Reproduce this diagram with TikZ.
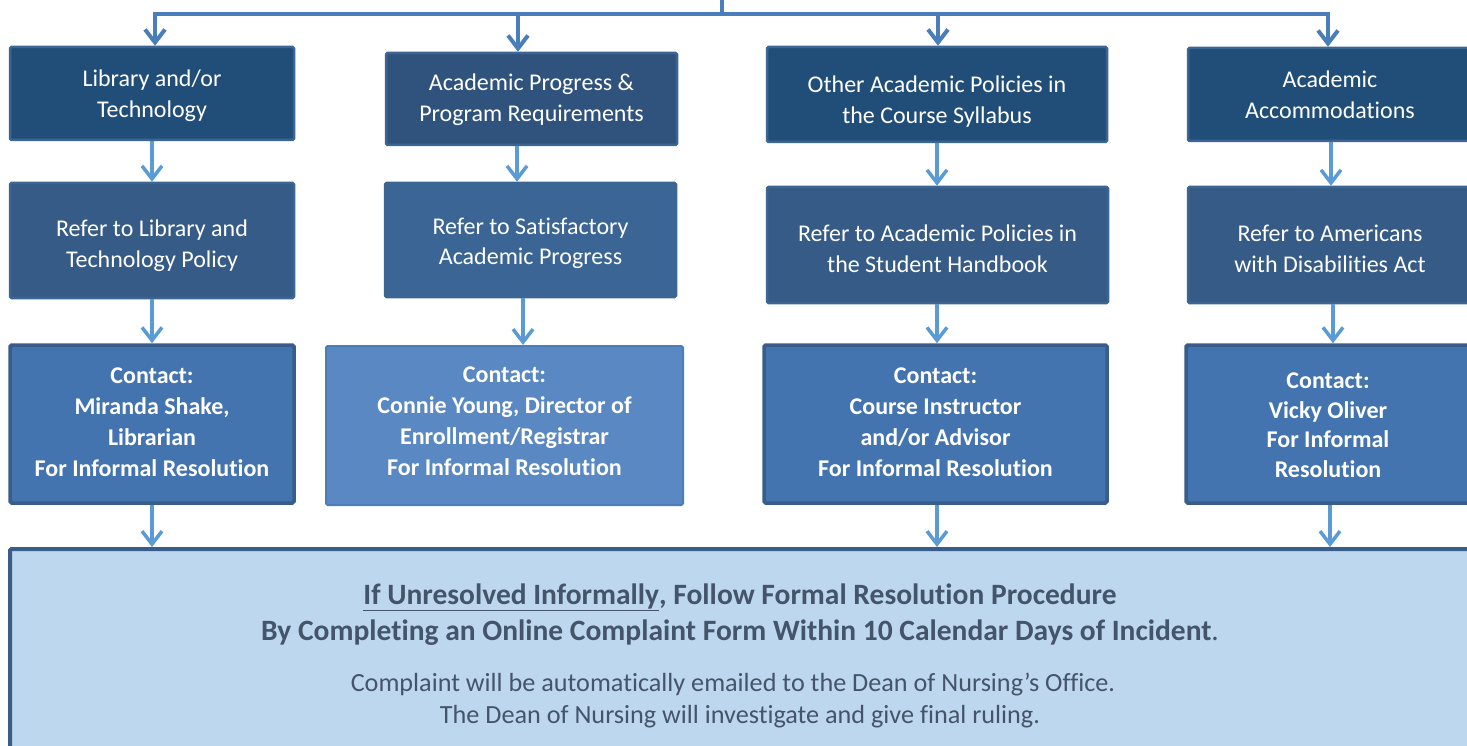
\documentclass[tikz,border=0pt]{standalone}
\usepackage{fontspec}
\setmainfont{Carlito}[Ligatures=NoCommon]
\usetikzlibrary{arrows.meta}
\definecolor{fillA}{HTML}{214E78}
\definecolor{fillA2}{HTML}{30537D}
\definecolor{fillB}{HTML}{365B87}
\definecolor{fillB2}{HTML}{3A6594}
\definecolor{fillC}{HTML}{4474AF}
\definecolor{fillC2}{HTML}{5A88C2}
\definecolor{edgeA}{HTML}{3D6593}
\definecolor{edgeC}{HTML}{385D8A}
\definecolor{edgeC2}{HTML}{4D7DB8}
\definecolor{bottomfill}{HTML}{BDD7EE}
\definecolor{bottomtext}{HTML}{44546A}
\definecolor{toparrow}{HTML}{4A7EBB}
\definecolor{lowarrow}{HTML}{5B9BD5}
\newcommand\boldline{\fontsize{29.5}{36}\selectfont\bfseries}
\newcommand\plainline{\fontsize{26.2}{32}\selectfont\mdseries}
\tikzset{
  boxbase/.style={rectangle, rounded corners=1.5pt, inner sep=0pt, align=center, text=white,
    font=\fontsize{24}{31}\selectfont, text depth=0pt},
  rowone/.style={boxbase, fill=fillA, draw=edgeA, line width=2.5pt},
  rowtwo/.style={boxbase, fill=fillB, draw=edgeA, line width=2.5pt},
  rowthree/.style={boxbase, fill=fillC, draw=edgeC, line width=3.5pt,
    font=\fontsize{24}{31}\selectfont\bfseries},
  bottombox/.style={rectangle, rounded corners=1.5pt, inner sep=0pt, align=center, text=bottomtext,
    fill=bottomfill, draw=edgeC, line width=4pt, font=\fontsize{26}{34}\selectfont},
  topline/.style={draw=toparrow, line width=4pt},
  toparr/.style={draw=toparrow, line width=4pt, -{Straight Barb[length=13pt,width=20pt,line width=4pt]}},
  lowarr/.style={draw=lowarrow, line width=3.5pt, -{Straight Barb[length=13pt,width=20pt,line width=3.5pt]}},
}
\begin{document}
\begin{tikzpicture}[x=1pt,y=-1pt]
\useasboundingbox (0,0) rectangle (1467,746);

% Row 1
\node[rowone, text height=48pt, minimum width=284pt, minimum height=93pt] (b1) at (152,93.5) {Library and/or\\Technology};
\node[rowone, text height=46pt, fill=fillA2, minimum width=291pt, minimum height=92pt] (b2) at (531.5,99) {Academic Progress \&\\Program Requirements};
\node[rowone, text height=58pt, minimum width=340pt, minimum height=95pt] (b3) at (937,94.5) {Other Academic Policies in\\the Course Syllabus};
\node[rowone, text height=48pt, minimum width=284pt, minimum height=93pt] (b4) at (1330,94.5) {Academic\\Accommodations};

% Row 2
\node[rowtwo, text height=54pt, minimum width=284pt, minimum height=115pt] (c1) at (152,240.5) {Refer to Library and\\Technology Policy};
\node[rowtwo, text height=50pt, fill=fillB2, minimum width=291pt, minimum height=114pt] (c2) at (530.5,240) {Refer to Satisfactory\\Academic Progress};
\node[rowtwo, text height=54pt, minimum width=341pt, minimum height=116pt] (c3) at (937.5,245) {Refer to Academic Policies in\\the Student Handbook};
\node[rowtwo, text height=54pt, minimum width=284pt, minimum height=116pt] (c4) at (1330,245) {Refer to Americans\\with Disabilities Act};

% Row 3
\node[rowthree, text height=104pt, minimum width=284pt, minimum height=158pt] (d1) at (152,424) {Contact:\\Miranda Shake,\\Librarian\\For Informal Resolution};
\node[rowthree, text height=100pt, fill=fillC2, draw=edgeC2, line width=2pt, minimum width=357pt, minimum height=159pt] (d2) at (504.5,425.5) {Contact:\\Connie Young, Director of\\Enrollment/Registrar\\For Informal Resolution};
\node[rowthree, text height=104pt, minimum width=343pt, minimum height=158pt] (d3) at (935.5,424) {Contact:\\Course Instructor\\and/or Advisor\\For Informal Resolution};
\node[rowthree, text height=106pt, font=\fontsize{24}{29.5}\selectfont\bfseries, minimum width=284pt, minimum height=158pt] (d4) at (1328,424) {Contact:\\Vicky Oliver\\For Informal\\Resolution};

% Bottom
\node[bottombox, minimum width=1460pt, minimum height=214pt] (e) at (740,656) {%
  \boldline \underline{If Unresolved Informally}, Follow Formal Resolution Procedure\\[2pt]
  \boldline By Completing an Online Complaint Form Within 10 Calendar Days of Incident\mdseries.\\[17pt]
  \plainline Complaint will be automatically emailed to the Dean of Nursing’s Office.\hbox to 14pt{}\\[-2pt]
  \plainline The Dean of Nursing will investigate and give final ruling.};

% Top connectors
\coordinate (root) at (722,0);
\coordinate (busL) at (155,14);
\coordinate (busR) at (1328,14);
\draw[topline] (root) -- (722,14);
\draw[topline, line cap=rect] (busL) -- (busR);
\draw[toparr] (busL) -- (155,0 |- b1.north);
\draw[toparr] (518,14) -- (518,0 |- b2.north);
\draw[toparr] (938,14) -- (938,0 |- b3.north);
\draw[toparr] (busR) -- (1328,0 |- b4.north);

% Row 1 -> Row 2
\draw[lowarr] (152,0 |- b1.south) -- (152,0 |- c1.north);
\draw[lowarr] (517,0 |- b2.south) -- (517,0 |- c2.north);
\draw[lowarr] (937,0 |- b3.south) -- (937,0 |- c3.north);
\draw[lowarr] (1331,0 |- b4.south) -- (1331,0 |- c4.north);

% Row 2 -> Row 3
\draw[lowarr] (152,0 |- c1.south) -- (152,0 |- d1.north);
\draw[lowarr] (523,0 |- c2.south) -- (523,0 |- d2.north);
\draw[lowarr] (937,0 |- c3.south) -- (937,0 |- d3.north);
\draw[lowarr] (1333,0 |- c4.south) -- (1333,0 |- d4.north);

% Row 3 -> Bottom
\draw[lowarr] (152,0 |- d1.south) -- (152,0 |- e.north);
\draw[lowarr] (937,0 |- d3.south) -- (937,0 |- e.north);
\draw[lowarr] (1330,0 |- d4.south) -- (1330,0 |- e.north);
\end{tikzpicture}
\end{document}
